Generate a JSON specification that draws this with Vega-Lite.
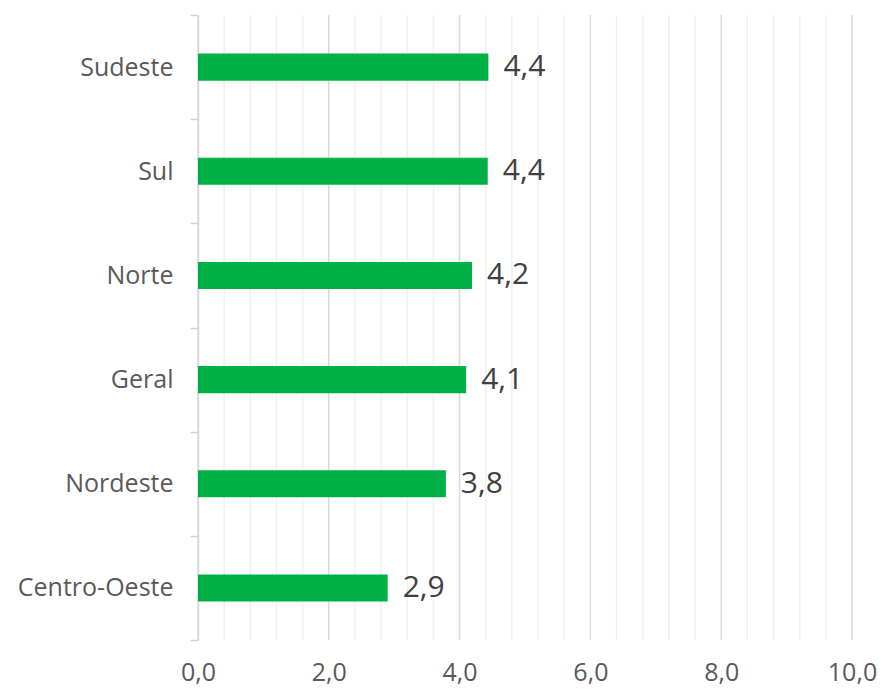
{
  "$schema": "https://vega.github.io/schema/vega-lite/v6.json",
  "width": 654,
  "height": 625,
  "autosize": "none",
  "padding": {"left": 198, "top": 15, "right": 30, "bottom": 49},
  "background": "white",
  "config": {
    "view": {"stroke": null},
    "font": "Open Sans",
    "locale": {"number": {"decimal": ",", "thousands": ".", "grouping": [3], "currency": ["R$", ""]}}
  },
  "datasets": {
    "bars": [
      {"regiao": "Sudeste", "valor": 4.44},
      {"regiao": "Sul", "valor": 4.43},
      {"regiao": "Norte", "valor": 4.19},
      {"regiao": "Geral\u00a0", "valor": 4.1},
      {"regiao": "Nordeste", "valor": 3.79},
      {"regiao": "Centro-Oeste", "valor": 2.9}
    ],
    "major": [{"v": 0}, {"v": 2}, {"v": 4}, {"v": 6}, {"v": 8}, {"v": 10}],
    "minor": [
      {"v": 0.4}, {"v": 0.8}, {"v": 1.2}, {"v": 1.6},
      {"v": 2.4}, {"v": 2.8}, {"v": 3.2}, {"v": 3.6},
      {"v": 4.4}, {"v": 4.8}, {"v": 5.2}, {"v": 5.6},
      {"v": 6.4}, {"v": 6.8}, {"v": 7.2}, {"v": 7.6},
      {"v": 8.4}, {"v": 8.8}, {"v": 9.2}, {"v": 9.6}
    ]
  },
  "layer": [
    {
      "data": {"name": "minor"},
      "mark": {"type": "rule", "color": "#f0f0f0", "strokeWidth": 1.5},
      "encoding": {
        "x": {"field": "v", "type": "quantitative", "scale": {"domain": [0, 10]}}
      }
    },
    {
      "data": {"name": "major"},
      "mark": {"type": "rule", "color": "#d9d9d9", "strokeWidth": 1.5},
      "encoding": {
        "x": {"field": "v", "type": "quantitative", "scale": {"domain": [0, 10]}}
      }
    },
    {
      "data": {"name": "bars"},
      "mark": {"type": "bar", "color": "#00b045", "height": {"band": 0.26}},
      "encoding": {
        "y": {
          "field": "regiao", "type": "nominal", "sort": null,
          "scale": {"paddingInner": 0, "paddingOuter": 0},
          "axis": {
            "title": null, "labelFontSize": 25, "labelColor": "#595959",
            "labelPadding": 17, "tickSize": 8, "tickColor": "#d0d0d0", "tickWidth": 1.5,
            "tickBand": "extent", "domainColor": "#d9d9d9", "domainWidth": 1.5,
            "labelFont": "Open Sans"
          }
        },
        "x": {
          "field": "valor", "type": "quantitative",
          "scale": {"domain": [0, 10], "nice": false},
          "axis": {
            "title": null, "values": [0, 2, 4, 6, 8, 10], "format": ".1f",
            "labelFontSize": 25, "labelColor": "#595959", "labelPadding": 20,
            "domain": false, "ticks": false, "grid": false,
            "labelFlush": false
          }
        }
      }
    },
    {
      "data": {"name": "bars"},
      "mark": {"type": "text", "align": "left", "dx": 15, "fontSize": 30, "color": "#404040"},
      "encoding": {
        "y": {"field": "regiao", "type": "nominal", "sort": null},
        "x": {"field": "valor", "type": "quantitative"},
        "text": {"field": "valor", "type": "quantitative", "format": ".1f"}
      }
    }
  ]
}
